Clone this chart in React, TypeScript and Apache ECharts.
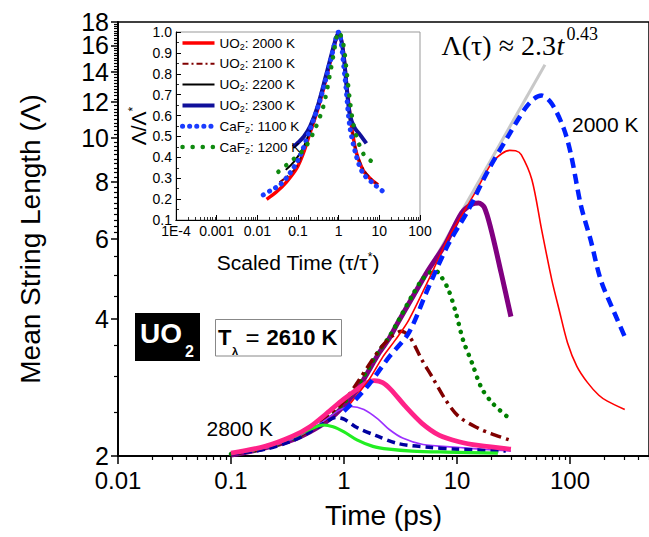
import React, { useEffect, useRef } from 'react';
import * as echarts from 'echarts';

const SANS = "'Liberation Sans', Arial, sans-serif";
const SERIF = "'Liberation Serif', 'Times New Roman', serif";

// ---------- main plot axes ----------
const xMajor = [0.01, 0.1, 1, 10, 100];
const xMinorMult = [2, 3, 4, 5, 6, 7, 8, 9];
const xDecades = [0.01, 0.1, 1, 10, 100];
const yMajor = [2, 4, 6, 8, 10, 12, 14, 16, 18];
const yTopLabel = [18];
const yMinorCoarse = [2.5, 3, 3.5, 4.5, 5, 5.5];

// ---------- inset axes ----------
const insetXMajor = [1e-4, 1e-3, 0.01, 0.1, 1, 10, 100];
const insetXDecades = [1e-4, 1e-3, 0.01, 0.1, 1, 10];

// ---------- main plot data [time (ps), mean string length] ----------
const fitLine = [[3.0, 3.9], [60, 14.5]];
const purple = [[0.1, 2.01], [0.18, 2.07], [0.35, 2.17], [0.5, 2.26], [0.7, 2.38], [1.0, 2.58], [1.36, 2.84], [2.03, 3.36], [2.5, 3.62], [3.0, 3.93], [4.0, 4.45], [5.5, 5.1], [7.9, 5.85], [11, 6.85], [13.5, 7.15], [15.5, 7.2], [17.4, 7.05], [20, 6.3], [24.6, 5.05], [30, 4.05]];
const greenDot = [[0.1, 2.02], [0.2, 2.08], [0.35, 2.18], [0.5, 2.28], [0.7, 2.42], [1.0, 2.62], [1.4, 2.92], [2.0, 3.38], [2.5, 3.65], [3.05, 3.98], [4.0, 4.5], [4.9, 4.88], [5.8, 5.07], [6.5, 5.1], [7.2, 4.97], [8.4, 4.64], [9.8, 4.12], [11.3, 3.6], [13.6, 3.2], [16.5, 2.82], [21, 2.6], [29, 2.42]];
const darkRed = [[0.1, 2.02], [0.2, 2.08], [0.35, 2.18], [0.5, 2.28], [0.7, 2.42], [1.0, 2.64], [1.36, 2.94], [1.7, 3.2], [2.2, 3.5], [2.7, 3.68], [3.2, 3.76], [3.8, 3.66], [4.9, 3.25], [6.0, 2.99], [7.9, 2.66], [10.4, 2.44], [15.5, 2.3], [20, 2.24], [29, 2.17]];
const violet = [[0.1, 2.02], [0.2, 2.08], [0.35, 2.18], [0.5, 2.28], [0.7, 2.41], [0.9, 2.52], [1.15, 2.57], [1.5, 2.53], [2.0, 2.41], [2.5, 2.29], [3.3, 2.19], [5.0, 2.12], [10, 2.09], [16, 2.07], [30, 2.05]];
const navyDash = [[0.1, 2.02], [0.2, 2.07], [0.35, 2.16], [0.5, 2.26], [0.7, 2.38], [0.85, 2.43], [1.0, 2.41], [1.3, 2.31], [1.9, 2.22], [3.0, 2.13], [5.6, 2.09], [10, 2.07], [27, 2.05]];
const brightGreen = [[0.1, 2.03], [0.18, 2.08], [0.35, 2.2], [0.5, 2.29], [0.65, 2.34], [0.8, 2.32], [1.0, 2.26], [1.3, 2.17], [1.8, 2.1], [2.5, 2.07], [4, 2.05], [8, 2.04], [23, 2.03]];
const pink = [[0.1, 2.03], [0.2, 2.1], [0.35, 2.21], [0.5, 2.32], [0.7, 2.48], [1.0, 2.67], [1.3, 2.8], [1.6, 2.9], [1.85, 2.93], [2.2, 2.9], [2.6, 2.8], [3.5, 2.57], [4.9, 2.36], [7, 2.22], [10.4, 2.15], [15.5, 2.11], [30, 2.07]];
const redThin = [[1.03, 2.53], [1.3, 2.72], [1.66, 2.94], [2.2, 3.3], [2.85, 3.6], [3.74, 3.98], [5.6, 4.88], [8.4, 6.05], [9.8, 6.45], [14.5, 7.6], [20.2, 8.8], [25, 9.25], [29.3, 9.4], [33, 9.38], [37, 9.2], [46, 8.1], [56, 6.3], [69, 4.88], [80, 4.2], [95, 3.55], [115, 3.15], [143, 2.9], [180, 2.72], [214, 2.64], [305, 2.53]];
const blueDash = [[1.0, 2.51], [1.3, 2.68], [1.66, 2.87], [2.5, 3.3], [3.74, 3.73], [5.6, 4.7], [8.4, 5.85], [12.6, 6.95], [18.9, 8.5], [28.4, 10.1], [39.9, 11.6], [48, 12.2], [56, 12.4], [69, 11.9], [88, 10.5], [102, 9.2], [125, 7.1], [152, 5.98], [187, 4.88], [248, 4.12], [305, 3.66]];

// ---------- inset data [scaled time, Λ/Λ*] ----------
const uo2000 = [[0.0169, 0.199], [0.0298, 0.235], [0.0525, 0.283], [0.0925, 0.347], [0.135, 0.419], [0.196, 0.515], [0.286, 0.611], [0.417, 0.722], [0.608, 0.85], [0.807, 0.946], [1.0, 1.0], [1.29, 0.914], [1.56, 0.754], [1.88, 0.611], [2.27, 0.499], [2.75, 0.419], [3.98, 0.339], [5.85, 0.3], [9.3, 0.268]];
const uo2100 = [[0.035, 0.28], [0.06, 0.315], [0.1, 0.365], [0.2, 0.53], [0.3, 0.63], [0.5, 0.8], [0.8, 0.95], [1.0, 1.0], [1.3, 0.9], [1.9, 0.6], [2.7, 0.43], [4.0, 0.345], [6.0, 0.3], [9.0, 0.272]];
const uo2200 = [[0.05, 0.34], [0.08, 0.38], [0.13, 0.44], [0.2, 0.53], [0.3, 0.63], [0.5, 0.8], [0.8, 0.95], [1.0, 1.0], [1.3, 0.9], [1.6, 0.72], [1.9, 0.56]];
const uo2300 = [[0.076, 0.45], [0.1, 0.47], [0.14, 0.5], [0.2, 0.55], [0.3, 0.64], [0.5, 0.8], [0.8, 0.95], [1.0, 1.0], [1.3, 0.9], [1.6, 0.72], [1.9, 0.6], [2.5, 0.54], [3.3, 0.51], [4.8, 0.467]];
const caf1100 = [[0.014, 0.22], [0.0224, 0.244], [0.036, 0.268], [0.063, 0.323], [0.11, 0.403], [0.196, 0.531], [0.35, 0.674], [0.608, 0.85], [0.92, 0.994], [1.0, 1.0], [1.42, 0.786], [1.88, 0.547], [2.75, 0.403], [3.98, 0.323], [7.0, 0.276], [13.6, 0.23]];
const caf1200 = [[0.033, 0.331], [0.058, 0.371], [0.135, 0.435], [0.235, 0.515], [0.417, 0.642], [0.66, 0.834], [0.91, 0.986], [1.0, 1.0], [1.29, 0.946], [1.56, 0.818], [1.88, 0.674], [2.27, 0.563], [2.75, 0.499], [3.98, 0.419], [5.85, 0.387], [8.4, 0.363]];

const insetNames = ['UO2: 2000 K', 'UO2: 2100 K', 'UO2: 2200 K', 'UO2: 2300 K', 'CaF2: 1100 K', 'CaF2: 1200 K'];

function minorList(decades: number[], mult: number[], max: number) {
  const out: number[] = [];
  decades.forEach((d) => mult.forEach((m) => {
    const v = +(d * m).toPrecision(6);
    if (v <= max) out.push(v);
  }));
  return out;
}

function yMinorList() {
  const out = [...yMinorCoarse];
  for (let i = 31; i < 90; i++) {
    const v = +(i * 0.2).toFixed(1);
    if (Math.abs(v - Math.round(v / 2) * 2) > 1e-6) out.push(v);
  }
  return out;
}

function line(name: string, data: number[][], xi: number, yi: number, color: string, width: number, type: any = 'solid', cap: string = 'butt', smooth = 0.3) {
  return {
    name, type: 'line', data, xAxisIndex: xi, yAxisIndex: yi,
    showSymbol: false, symbol: 'none', smooth,
    lineStyle: { color, width, type, cap, join: 'round' },
    itemStyle: { color },
    silent: true,
  };
}

export default function App() {
  const ref = useRef<HTMLDivElement>(null);
  useEffect(() => {
    if (!ref.current) return;
    const chart = echarts.init(ref.current, null, { renderer: 'svg' });
    const xMinor = minorList(xDecades, xMinorMult, 500);
    const insetXMinor = minorList(insetXDecades, xMinorMult, 100);
    const yMinor = yMinorList();
    const axisCommon = { splitLine: { show: false }, splitArea: { show: false } };
    const insetLabel = (v: number) => (v < 5e-4 ? '1E-4' : String(+v.toPrecision(6)));
    const blank = { show: false };
    const mainGrid = { left: 118, top: 22, width: 533, height: 434 };
    const insetGrid = { left: 176, top: 32, width: 244, height: 188 };
    const yLabelStyle = { fontSize: 25, lineHeight: 20, fontFamily: SANS, color: '#000', margin: 9, hideOverlap: false };

    const option: any = {
      animation: false,
      backgroundColor: '#fff',
      grid: [
        { ...mainGrid, show: true, borderColor: '#000', borderWidth: 1.5, backgroundColor: 'transparent' },
        { ...insetGrid, show: true, borderColor: '#999', borderWidth: 1, backgroundColor: '#fff' },
        { ...mainGrid, show: false },
        { ...insetGrid, show: false },
      ],
      xAxis: [
        {
          ...axisCommon, gridIndex: 0, type: 'log', logBase: 10, min: 0.01, max: 500, position: 'bottom',
          axisLine: { show: true, lineStyle: { color: '#000', width: 1.5 } },
          axisTick: { show: true, length: 8, customValues: xMajor, lineStyle: { color: '#000', width: 1.5 } },
          axisLabel: { customValues: xMajor, hideOverlap: false, formatter: (v: number) => String(+v.toPrecision(6)), fontSize: 24, lineHeight: 20, fontFamily: SANS, color: '#000', margin: 14 },
          name: 'Time (ps)', nameLocation: 'middle', nameGap: 45,
          nameTextStyle: { fontSize: 28, fontFamily: SANS, color: '#000' },
        },
        {
          ...axisCommon, gridIndex: 2, type: 'log', logBase: 10, min: 0.01, max: 500, position: 'bottom',
          axisLine: { show: true, lineStyle: { color: '#000', width: 1.5 } },
          axisTick: { show: true, length: 4, customValues: xMinor, lineStyle: { color: '#000', width: 1.2 } },
          axisLabel: blank,
        },
        {
          ...axisCommon, gridIndex: 1, type: 'log', logBase: 10, min: 1e-4, max: 100, position: 'bottom',
          axisLine: { show: true, lineStyle: { color: '#000', width: 1 } },
          axisTick: { show: true, inside: true, length: 5, customValues: insetXMajor, lineStyle: { color: '#000', width: 1 } },
          axisLabel: { customValues: insetXMajor, hideOverlap: false, formatter: insetLabel, fontSize: 14, lineHeight: 12, fontFamily: SANS, color: '#000', margin: 5 },
          name: '{a|Scaled Time (τ/τ}{s|*}{a|)}', nameLocation: 'middle', nameGap: 31,
          nameTextStyle: { rich: { a: { fontSize: 21, fontFamily: SANS, color: '#000' }, s: { fontSize: 12, fontFamily: SANS, color: '#000', verticalAlign: 'top', lineHeight: 22 } } },
        },
        {
          ...axisCommon, gridIndex: 3, type: 'log', logBase: 10, min: 1e-4, max: 100, position: 'bottom',
          axisLine: { show: true, lineStyle: { color: '#000', width: 1 } },
          axisTick: { show: true, inside: true, length: 3, customValues: insetXMinor, lineStyle: { color: '#000', width: 0.8 } },
          axisLabel: blank,
        },
      ],
      yAxis: [
        {
          ...axisCommon, gridIndex: 0, type: 'log', logBase: 10, min: 2, max: 18.001, position: 'left',
          axisLine: { show: true, lineStyle: { color: '#000', width: 1.5 } },
          axisTick: { show: true, length: 7, customValues: yMajor, lineStyle: { color: '#000', width: 1.5 } },
          axisLabel: { ...yLabelStyle, customValues: yMajor.filter((v) => v < 17) },
          name: 'Mean String Length (Λ)', nameLocation: 'middle', nameGap: 74,
          nameTextStyle: { fontSize: 28, fontFamily: SANS, color: '#000' },
        },
        {
          ...axisCommon, gridIndex: 2, type: 'log', logBase: 10, min: 2, max: 18.001, position: 'left',
          axisLine: { show: true, lineStyle: { color: '#000', width: 1.5 } },
          axisTick: { show: true, length: 4, customValues: yMinor, lineStyle: { color: '#000', width: 1.2 } },
          axisLabel: { ...yLabelStyle, customValues: yTopLabel },
        },
        {
          ...axisCommon, gridIndex: 1, type: 'value', min: 0.1, max: 1.0, interval: 0.1, position: 'left',
          axisLine: { show: true, lineStyle: { color: '#000', width: 1 } },
          axisTick: { show: true, inside: true, length: 5, lineStyle: { color: '#000', width: 1 } },
          minorTick: { show: true, splitNumber: 2, length: 3, lineStyle: { color: '#000', width: 0.8 } },
          axisLabel: { formatter: (v: number) => v.toFixed(1), hideOverlap: false, fontSize: 14, lineHeight: 12, fontFamily: SANS, color: '#000', margin: 4 },
          name: '{a|Λ/Λ}{s|*}', nameLocation: 'middle', nameGap: 27,
          nameTextStyle: { rich: { a: { fontSize: 21, fontFamily: SANS, color: '#000' }, s: { fontSize: 12, fontFamily: SANS, color: '#000', verticalAlign: 'top', lineHeight: 22 } } },
        },
        {
          ...axisCommon, gridIndex: 3, type: 'value', min: 0.1, max: 1.0, interval: 0.1, position: 'left',
          axisLine: { show: false }, axisTick: { show: false }, axisLabel: { show: false },
        },
      ],
      legend: {
        show: true, orient: 'vertical', left: 180, top: 36, padding: 0,
        itemWidth: 32, itemHeight: 14, itemGap: 5.8,
        data: insetNames,
        selectedMode: false,
        itemStyle: { opacity: 0 },
        lineStyle: { width: 'inherit' },
        formatter: (name: string) => {
          const m = name.match(/^([A-Za-z]+?)2(:.*)$/);
          return m ? `{n|${m[1]}}{s|2}{n|${m[2]}}` : name;
        },
        textStyle: {
          fontSize: 13.5, fontFamily: SANS, color: '#000',
          rich: {
            n: { fontSize: 13.5, fontFamily: SANS, color: '#000', lineHeight: 16 },
            s: { fontSize: 9, fontFamily: SANS, color: '#000', verticalAlign: 'bottom', lineHeight: 16 },
          },
        },
      },
      series: [
        // invisible anchors so the tick-only axes get rendered
        { type: 'line', data: [[1, 3]], xAxisIndex: 1, yAxisIndex: 1, symbol: 'none', lineStyle: { opacity: 0 }, silent: true },
        { type: 'line', data: [[1, 0.5]], xAxisIndex: 3, yAxisIndex: 3, symbol: 'none', lineStyle: { opacity: 0 }, silent: true },
        line('fit', fitLine, 0, 0, '#c8c8c8', 3, 'solid', 'butt', 0),
        line('purple', purple, 0, 0, '#800080', 5),
        line('greenDot', greenDot, 0, 0, '#008000', 4.5, [0.1, 8], 'round'),
        line('darkRed', darkRed, 0, 0, '#800000', 3.5, [11, 5, 3, 5]),
        line('violet', violet, 0, 0, '#9b30ff', 1.6),
        line('navyDash', navyDash, 0, 0, '#0000a0', 3.5, [8, 5]),
        line('brightGreen', brightGreen, 0, 0, '#22ee22', 3.2),
        line('pink', pink, 0, 0, '#ff2288', 4.8),
        line('redThin', redThin, 0, 0, '#ff0000', 1.6),
        line('2000 K', blueDash, 0, 0, '#0020ff', 4.5, [10, 6]),
        line(insetNames[0], uo2000, 2, 2, '#ff0000', 3.5),
        line(insetNames[1], uo2100, 2, 2, '#800000', 2, [6, 3, 2, 3]),
        line(insetNames[2], uo2200, 2, 2, '#000000', 2),
        line(insetNames[3], uo2300, 2, 2, '#10109a', 4),
        line(insetNames[4], caf1100, 2, 2, '#1a3cff', 5, [0.1, 7], 'round'),
        line(insetNames[5], caf1200, 2, 2, '#108a10', 4.5, [0.1, 10], 'round'),
      ],
      graphic: [
        { type: 'rect', shape: { x: 135, y: 313, width: 65, height: 48 }, style: { fill: '#000' } },
        { type: 'text', x: 140, y: 333, style: { text: 'UO', fill: '#fff', fontSize: 28, fontWeight: 'bold', fontFamily: SANS, align: 'left', verticalAlign: 'middle' } },
        { type: 'text', x: 185, y: 351, style: { text: '2', fill: '#fff', fontSize: 16, fontWeight: 'bold', fontFamily: SANS, align: 'left', verticalAlign: 'middle' } },
        { type: 'rect', shape: { x: 215.5, y: 319.5, width: 126, height: 36.5 }, style: { fill: '#fff', stroke: '#888', lineWidth: 1 } },
        { type: 'text', x: 218, y: 337, style: { text: 'T', fill: '#000', fontSize: 22, fontWeight: 'bold', fontFamily: SANS, align: 'left', verticalAlign: 'middle' } },
        { type: 'text', x: 232, y: 351, style: { text: 'λ', fill: '#000', fontSize: 11, fontWeight: 'bold', fontFamily: SANS, align: 'left', verticalAlign: 'middle' } },
        { type: 'text', x: 252.5, y: 337, style: { text: '=', fill: '#000', fontSize: 24, fontFamily: SANS, align: 'center', verticalAlign: 'middle' } },
        { type: 'text', x: 266.5, y: 337, style: { text: '2610 K', fill: '#000', fontSize: 22, fontWeight: 'bold', fontFamily: SANS, align: 'left', verticalAlign: 'middle' } },
        { type: 'text', x: 206.5, y: 428.5, style: { text: '2800 K', fill: '#000', fontSize: 21, fontFamily: SANS, align: 'left', verticalAlign: 'middle' } },
        { type: 'text', x: 572, y: 124, style: { text: '2000 K', fill: '#000', fontSize: 21, fontFamily: SANS, align: 'left', verticalAlign: 'middle' } },
        { type: 'text', x: 556, y: 45, style: { text: 'Λ(τ) ≈ 2.3', fill: '#000', fontSize: 28, fontFamily: SERIF, align: 'right', verticalAlign: 'middle' } },
        { type: 'text', x: 556.5, y: 45, style: { text: 't', fill: '#000', fontSize: 28, fontStyle: 'italic', fontFamily: SERIF, align: 'left', verticalAlign: 'middle' } },
        { type: 'text', x: 566.5, y: 34, style: { text: '0.43', fill: '#000', fontSize: 18, fontFamily: SERIF, align: 'left', verticalAlign: 'middle' } },
      ],
    };
    chart.setOption(option);
    return () => chart.dispose();
  }, []);
  return <div ref={ref} style={{ position: 'absolute', left: 0, top: 0, width: 649, height: 537, background: '#fff' }} />;
}
